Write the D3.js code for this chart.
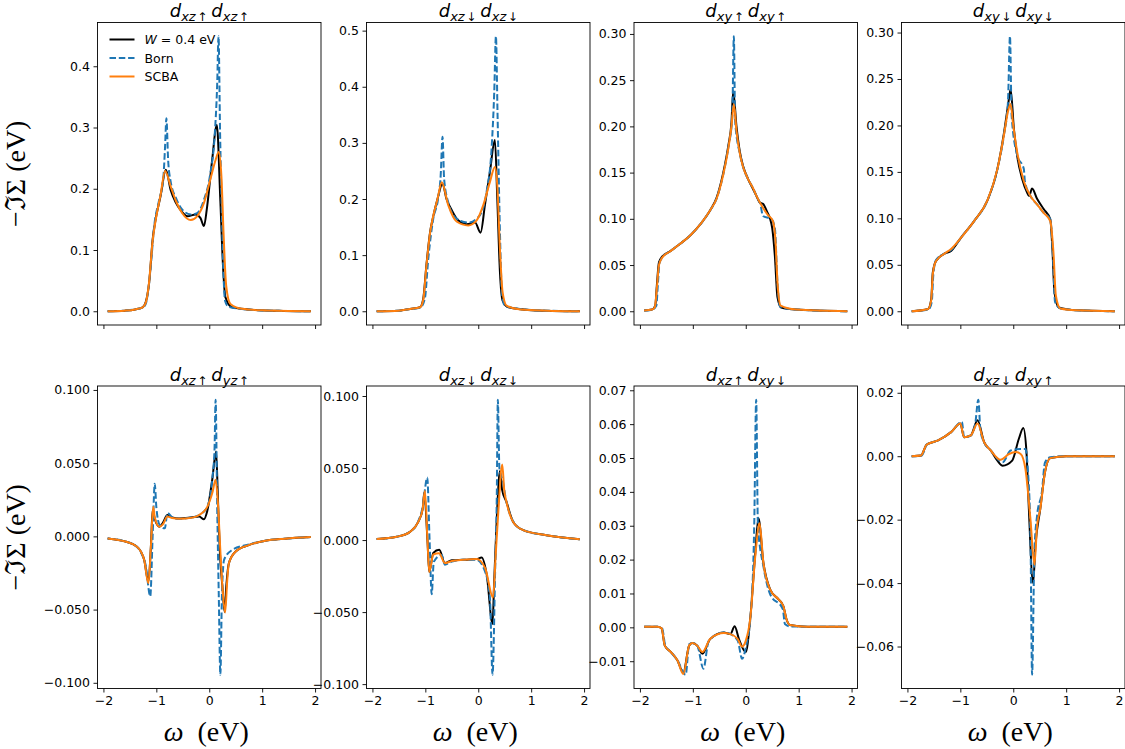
<!DOCTYPE html>
<html>
<head>
<meta charset="utf-8">
<script src="https://cdn.jsdelivr.net/npm/d3@7"></script>
<style>
body{margin:0;background:#fff;}
text{fill:#000;}
</style>
</head>
<body>
<svg id="chart" width="1125" height="749"></svg>
<script>
// ---- data: [omega (eV), -Im Sigma (eV)] ----

// d_xz^ d_xz^
let p11W=[[-1.92,0],[-1.6,0.001],[-1.4,0.003],[-1.26,0.0065],[-1.2,0.015],[-1.135,0.047],[-1.07,0.117],[-1.02,0.147],[-0.92,0.188],[-0.82,0.231],[-0.73,0.198],[-0.63,0.177],[-0.54,0.165],[-0.41,0.155],[-0.26,0.158],[-0.165,0.152],[-0.1,0.139],[-0.04,0.171],[0.055,0.247],[0.143,0.304],[0.21,0.18],[0.26,0.074],[0.305,0.023],[0.43,0.0065],[0.87,0.002],[1.4,0.0005],[1.92,0]];
let p11Born=[[-1.92,0],[-1.6,0.001],[-1.4,0.003],[-1.26,0.006],[-1.2,0.012],[-1.16,0.03],[-1.105,0.074],[-1.04,0.139],[-0.946,0.182],[-0.87,0.215],[-0.835,0.269],[-0.81,0.315],[-0.777,0.247],[-0.73,0.212],[-0.63,0.185],[-0.51,0.166],[-0.35,0.158],[-0.23,0.16],[-0.1,0.182],[0.02,0.225],[0.105,0.29],[0.15,0.371],[0.175,0.449],[0.205,0.29],[0.24,0.155],[0.27,0.058],[0.3,0.017],[0.37,0.007],[0.87,0.002],[1.4,0.0005],[1.92,0]];
let p11Scba=[[-1.92,0],[-1.6,0.001],[-1.4,0.003],[-1.26,0.0065],[-1.2,0.014],[-1.14,0.045],[-1.07,0.115],[-1.02,0.145],[-0.92,0.19],[-0.835,0.229],[-0.73,0.204],[-0.63,0.18],[-0.51,0.16],[-0.35,0.149],[-0.23,0.155],[-0.1,0.177],[0.02,0.215],[0.12,0.247],[0.18,0.26],[0.23,0.22],[0.27,0.128],[0.32,0.042],[0.4,0.012],[0.62,0.004],[1.0,0.0015],[1.92,0]];

// d_xz_ d_xz_
let p12W=[[-1.92,0],[-1.5,0.001],[-1.29,0.004],[-1.1,0.007],[-1.04,0.022],[-0.98,0.082],[-0.91,0.141],[-0.86,0.165],[-0.77,0.2],[-0.675,0.227],[-0.6,0.2],[-0.5,0.18],[-0.38,0.162],[-0.22,0.155],[-0.06,0.158],[0.044,0.14],[0.126,0.189],[0.22,0.248],[0.315,0.305],[0.36,0.2],[0.41,0.07],[0.46,0.019],[0.57,0.007],[1.0,0.002],[1.92,0]];
let p12Born=[[-1.92,0],[-1.5,0.001],[-1.29,0.004],[-1.1,0.006],[-1.01,0.022],[-0.945,0.093],[-0.85,0.165],[-0.76,0.2],[-0.71,0.242],[-0.675,0.311],[-0.645,0.236],[-0.57,0.195],[-0.41,0.165],[-0.19,0.158],[0.03,0.171],[0.157,0.2125],[0.252,0.29],[0.302,0.39],[0.334,0.49],[0.365,0.349],[0.41,0.141],[0.447,0.034],[0.5,0.01],[0.8,0.004],[1.3,0.001],[1.92,0]];
let p12Scba=[[-1.92,0],[-1.5,0.001],[-1.29,0.004],[-1.1,0.007],[-1.04,0.02],[-0.98,0.08],[-0.91,0.14],[-0.86,0.166],[-0.77,0.2],[-0.69,0.23],[-0.567,0.189],[-0.41,0.16],[-0.19,0.153],[-0.03,0.162],[0.095,0.189],[0.22,0.23],[0.315,0.257],[0.36,0.224],[0.41,0.111],[0.46,0.034],[0.535,0.01],[0.8,0.003],[1.3,0.001],[1.92,0]];

// d_xy^ d_xy^
let p13W=[[-1.92,0.0007],[-1.77,0.0018],[-1.71,0.006],[-1.68,0.028],[-1.64,0.053],[-1.58,0.059],[-1.425,0.065],[-1.24,0.073],[-1.05,0.082],[-0.86,0.094],[-0.675,0.109],[-0.55,0.123],[-0.425,0.15],[-0.33,0.179],[-0.27,0.204],[-0.237,0.238],[-0.175,0.2],[-0.11,0.172],[-0.05,0.157],[0.044,0.143],[0.14,0.132],[0.2,0.125],[0.26,0.118],[0.33,0.116],[0.4,0.108],[0.46,0.1],[0.5,0.09],[0.55,0.06],[0.6,0.015],[0.67,0.004],[0.95,0.0018],[1.92,0]];
let p13Born=[[-1.92,0.0007],[-1.77,0.0018],[-1.69,0.006],[-1.66,0.03],[-1.63,0.052],[-1.58,0.058],[-1.425,0.065],[-1.24,0.073],[-1.05,0.082],[-0.86,0.094],[-0.675,0.109],[-0.55,0.122],[-0.425,0.148],[-0.33,0.177],[-0.255,0.21],[-0.225,0.2975],[-0.2,0.205],[-0.11,0.17],[-0.05,0.156],[0.044,0.143],[0.14,0.133],[0.2,0.125],[0.28,0.115],[0.325,0.103],[0.48,0.1],[0.55,0.09],[0.6,0.03],[0.65,0.005],[0.95,0.0018],[1.92,0]];
let p13Scba=[[-1.92,0.0007],[-1.77,0.0018],[-1.72,0.004],[-1.68,0.025],[-1.64,0.05],[-1.58,0.058],[-1.425,0.065],[-1.24,0.073],[-1.05,0.082],[-0.86,0.094],[-0.675,0.109],[-0.55,0.122],[-0.425,0.148],[-0.33,0.176],[-0.27,0.2],[-0.225,0.224],[-0.175,0.195],[-0.11,0.17],[-0.05,0.156],[0.044,0.143],[0.14,0.133],[0.2,0.125],[0.325,0.112],[0.42,0.104],[0.51,0.098],[0.56,0.078],[0.6,0.031],[0.66,0.006],[0.95,0.0018],[1.92,0]];

// d_xy_ d_xy_
let p14W=[[-1.92,0],[-1.61,0.0025],[-1.55,0.013],[-1.52,0.042],[-1.46,0.054],[-1.3,0.062],[-1.175,0.065],[-0.99,0.079],[-0.74,0.097],[-0.49,0.119],[-0.3,0.153],[-0.175,0.192],[-0.1,0.221],[-0.05,0.239],[0.0125,0.196],[0.075,0.167],[0.17,0.142],[0.26,0.128],[0.3,0.124],[0.356,0.132],[0.45,0.121],[0.575,0.11],[0.7,0.099],[0.74,0.067],[0.78,0.02],[0.86,0.004],[1.2,0.001],[1.92,0]];
let p14Born=[[-1.92,0],[-1.6,0.002],[-1.54,0.01],[-1.51,0.04],[-1.46,0.055],[-1.3,0.062],[-1.175,0.066],[-0.99,0.079],[-0.74,0.097],[-0.49,0.119],[-0.3,0.153],[-0.175,0.19],[-0.1,0.225],[-0.062,0.296],[-0.03,0.21],[0.075,0.168],[0.2,0.153],[0.22,0.14],[0.325,0.124],[0.45,0.115],[0.575,0.106],[0.7,0.099],[0.75,0.06],[0.79,0.01],[0.89,0.003],[1.2,0.001],[1.92,0]];
let p14Scba=[[-1.92,0],[-1.61,0.0025],[-1.55,0.012],[-1.52,0.04],[-1.46,0.054],[-1.3,0.062],[-1.175,0.067],[-0.99,0.079],[-0.74,0.097],[-0.49,0.119],[-0.3,0.153],[-0.175,0.19],[-0.1,0.215],[-0.05,0.223],[0.0,0.2],[0.075,0.171],[0.2,0.14],[0.325,0.124],[0.45,0.115],[0.575,0.106],[0.7,0.097],[0.76,0.063],[0.805,0.017],[0.89,0.003],[1.2,0.001],[1.92,0]];

// d_xz^ d_yz^
let p21W=[[-1.92,-0.0014],[-1.57,-0.0037],[-1.385,-0.0066],[-1.29,-0.0105],[-1.23,-0.016],[-1.15,-0.031],[-1.1,-0.005],[-1.07,0.018],[-1.03,0.012],[-0.946,0.0066],[-0.88,0.009],[-0.79,0.0146],[-0.7,0.013],[-0.57,0.0122],[-0.32,0.013],[-0.19,0.0135],[-0.1,0.0117],[-0.04,0.017],[0.056,0.0386],[0.13,0.058],[0.16,0.03],[0.2,-0.01],[0.25,-0.035],[0.29,-0.0516],[0.32,-0.035],[0.37,-0.0185],[0.495,-0.0105],[0.745,-0.006],[1.06,-0.003],[1.43,-0.0016],[1.92,-0.0005]];
let p21Born=[[-1.92,-0.0014],[-1.57,-0.0037],[-1.385,-0.0066],[-1.29,-0.011],[-1.2,-0.02],[-1.115,-0.041],[-1.07,0.0],[-1.03,0.036],[-1.0,0.02],[-0.94,0.008],[-0.84,0.0055],[-0.79,0.016],[-0.7,0.013],[-0.57,0.012],[-0.32,0.013],[-0.19,0.0146],[-0.04,0.02],[0.06,0.04],[0.1,0.06],[0.12,0.0933],[0.15,0.02],[0.18,-0.04],[0.21,-0.0945],[0.24,-0.04],[0.28,-0.016],[0.43,-0.0094],[0.745,-0.0055],[1.06,-0.003],[1.43,-0.0016],[1.92,-0.0005]];
let p21Scba=[[-1.92,-0.0014],[-1.57,-0.0037],[-1.385,-0.0066],[-1.29,-0.0105],[-1.23,-0.016],[-1.15,-0.032],[-1.1,-0.005],[-1.06,0.0203],[-1.03,0.013],[-0.946,0.0066],[-0.88,0.008],[-0.79,0.0135],[-0.7,0.0125],[-0.57,0.012],[-0.32,0.0128],[-0.19,0.0146],[-0.04,0.02],[0.06,0.03],[0.12,0.0386],[0.16,0.025],[0.21,-0.01],[0.25,-0.035],[0.3,-0.052],[0.34,-0.03],[0.37,-0.0185],[0.495,-0.0105],[0.745,-0.006],[1.06,-0.003],[1.43,-0.0016],[1.92,-0.0005]];

// d_xz_ d_xz_ (off-diagonal panel)
let p22W=[[-1.92,0.0007],[-1.54,0.0023],[-1.29,0.0057],[-1.134,0.0126],[-1.05,0.0217],[-1.02,0.033],[-0.96,0.0],[-0.926,-0.0221],[-0.85,-0.009],[-0.737,-0.0068],[-0.63,-0.016],[-0.5,-0.014],[-0.284,-0.0137],[-0.03,-0.0132],[0.063,-0.0121],[0.16,-0.024],[0.27,-0.0582],[0.3,-0.03],[0.35,0.0148],[0.41,0.048],[0.45,0.035],[0.535,0.0263],[0.66,0.0126],[0.85,0.0069],[1.29,0.0034],[1.92,0.0005]];
let p22Born=[[-1.92,0.0007],[-1.54,0.0023],[-1.29,0.0057],[-1.134,0.013],[-1.05,0.023],[-0.964,0.0434],[-0.92,0.0],[-0.88,-0.0376],[-0.84,-0.015],[-0.69,-0.0103],[-0.63,-0.0171],[-0.5,-0.015],[-0.284,-0.0137],[-0.03,-0.0137],[0.13,-0.022],[0.22,-0.04],[0.27,-0.0935],[0.32,-0.02],[0.35,0.03],[0.37,0.0974],[0.4,0.05],[0.47,0.04],[0.51,0.0308],[0.66,0.013],[0.85,0.0069],[1.29,0.0034],[1.92,0.0005]];
let p22Scba=[[-1.92,0.0007],[-1.54,0.0023],[-1.29,0.0057],[-1.134,0.0126],[-1.05,0.0217],[-1.008,0.0342],[-0.96,0.0],[-0.926,-0.0221],[-0.85,-0.01],[-0.74,-0.0091],[-0.63,-0.016],[-0.5,-0.0145],[-0.284,-0.0137],[-0.03,-0.0132],[0.13,-0.0194],[0.28,-0.0399],[0.33,-0.01],[0.38,0.02],[0.454,0.0525],[0.49,0.035],[0.535,0.0263],[0.66,0.0126],[0.85,0.0069],[1.29,0.0034],[1.92,0.0005]];

// d_xz^ d_xy_
let p23W=[[-1.92,0.0002],[-1.67,0.0002],[-1.59,-0.0003],[-1.53,-0.0054],[-1.415,-0.0073],[-1.29,-0.0098],[-1.18,-0.0134],[-1.07,-0.0054],[-1.01,-0.0046],[-0.917,-0.0054],[-0.82,-0.0078],[-0.67,-0.0034],[-0.416,-0.0015],[-0.29,-0.002],[-0.21,0.0003],[-0.13,-0.0034],[0.0,-0.0073],[0.084,0.0024],[0.18,0.022],[0.24,0.0322],[0.334,0.019],[0.46,0.0112],[0.616,0.0083],[0.71,0.0063],[0.77,0.0024],[0.834,0.0007],[1.15,0.0002],[1.92,0.0002]];
let p23Born=[[-1.92,0.0002],[-1.67,0.0002],[-1.58,-0.0003],[-1.52,-0.0054],[-1.415,-0.0073],[-1.29,-0.0098],[-1.135,-0.014],[-1.07,-0.005],[-1.01,-0.0046],[-0.917,-0.0054],[-0.8,-0.0122],[-0.7,-0.004],[-0.416,-0.0015],[-0.29,-0.002],[-0.15,-0.004],[-0.07,-0.0093],[0.0,-0.006],[0.1,0.005],[0.16,0.03],[0.197,0.0672],[0.23,0.03],[0.334,0.018],[0.46,0.0098],[0.7,0.0054],[0.74,0.001],[0.834,0.0003],[1.15,0.0002],[1.92,0.0002]];
let p23Scba=[[-1.92,0.0002],[-1.67,0.0002],[-1.59,-0.0003],[-1.53,-0.0054],[-1.415,-0.0073],[-1.29,-0.0098],[-1.18,-0.0138],[-1.07,-0.0054],[-1.01,-0.0046],[-0.917,-0.0054],[-0.82,-0.0073],[-0.67,-0.0034],[-0.416,-0.0017],[-0.29,-0.002],[-0.15,-0.0035],[-0.07,-0.0057],[0.0,-0.004],[0.084,0.0024],[0.18,0.021],[0.26,0.0307],[0.334,0.019],[0.46,0.0112],[0.616,0.0083],[0.71,0.0063],[0.77,0.0024],[0.834,0.0007],[1.15,0.0002],[1.92,0.0002]];

// d_xz_ d_xy^
let p24W=[[-1.92,0],[-1.74,0.0002],[-1.69,0.0018],[-1.64,0.0036],[-1.42,0.005],[-1.175,0.0076],[-1.0,0.0103],[-0.93,0.006],[-0.8,0.0066],[-0.675,0.0113],[-0.55,0.0044],[-0.425,0.0018],[-0.3,-0.0014],[-0.2,-0.003],[-0.02,-0.0014],[0.106,0.0055],[0.19,0.0089],[0.25,0.0013],[0.29,-0.0146],[0.375,-0.04],[0.42,-0.028],[0.51,-0.0167],[0.6,-0.005],[0.7,-0.0006],[1.01,0],[1.92,0]];
let p24Born=[[-1.92,0],[-1.73,0.0002],[-1.68,0.0018],[-1.64,0.0036],[-1.42,0.005],[-1.175,0.0076],[-0.97,0.0108],[-0.93,0.006],[-0.8,0.0066],[-0.72,0.01],[-0.66,0.0178],[-0.62,0.008],[-0.55,0.0044],[-0.425,0.0018],[-0.2,-0.0019],[-0.05,0.0018],[0.14,0.0023],[0.23,0.0023],[0.275,-0.004],[0.325,-0.025],[0.356,-0.0689],[0.4,-0.03],[0.45,-0.0188],[0.54,-0.0114],[0.6,-0.002],[0.7,-0.0003],[1.01,0],[1.92,0]];
let p24Scba=[[-1.92,0],[-1.74,0.0002],[-1.69,0.0018],[-1.64,0.0036],[-1.42,0.005],[-1.175,0.0076],[-1.0,0.0103],[-0.93,0.006],[-0.8,0.0066],[-0.675,0.0103],[-0.55,0.0044],[-0.425,0.0018],[-0.24,-0.0011],[-0.08,0.0007],[0.044,0.0013],[0.14,0.0007],[0.23,-0.004],[0.325,-0.0199],[0.4,-0.0342],[0.45,-0.022],[0.51,-0.0167],[0.6,-0.005],[0.7,-0.0006],[1.01,0],[1.92,0]];

// titles: [orbital, spin] pairs
let titles=[
  [['xz','↑'],['xz','↑']],[['xz','↓'],['xz','↓']],[['xy','↑'],['xy','↑']],[['xy','↓'],['xy','↓']],
  [['xz','↑'],['yz','↑']],[['xz','↓'],['xz','↓']],[['xz','↑'],['xy','↓']],[['xz','↓'],['xy','↑']]
];
let yTicks=[
  [0,0.1,0.2,0.3,0.4],[0,0.1,0.2,0.3,0.4,0.5],[0,0.05,0.1,0.15,0.2,0.25,0.3],[0,0.05,0.1,0.15,0.2,0.25,0.3],
  [-0.1,-0.05,0,0.05,0.1],[-0.1,-0.05,0,0.05,0.1],[-0.01,0,0.01,0.02,0.03,0.04,0.05,0.06,0.07],[-0.06,-0.04,-0.02,0,0.02]
];
let yFormats=['.1f','.1f','.2f','.2f','.3f','.3f','.2f','.2f'];
let xTicks=[-2,-1,0,1,2];
let seriesNames=['W','Born','SCBA'];

let panels=[
  [p11W,p11Born,p11Scba],[p12W,p12Born,p12Scba],[p13W,p13Born,p13Scba],[p14W,p14Born,p14Scba],
  [p21W,p21Born,p21Scba],[p22W,p22Born,p22Scba],[p23W,p23Born,p23Scba],[p24W,p24Born,p24Scba]
];

// ---- layout ----
let svg=d3.select('#chart');
let colLeft=[97.5,366.5,634,901.5];
let rowTop=[22.5,386];
let pw=223.5, ph=302.5;
let styles=[
  {color:'#000000',dash:null},
  {color:'#1f77b4',dash:'6.5,2.8'},
  {color:'#ff7f0e',dash:null}
];
let tickFont='DejaVu Sans';
let serif='Liberation Serif, DejaVu Serif, serif';

function pad(ext){
  let r=ext[1]-ext[0];
  return [ext[0]-0.05*r, ext[1]+0.05*r];
}

panels.forEach((series,i)=>{
  let row=Math.floor(i/4), col=i%4;
  let g=svg.append('g').attr('transform','translate('+colLeft[col]+','+rowTop[row]+')');

  let all=[].concat(...series);
  let x=d3.scaleLinear().domain(pad(d3.extent(all,d=>d[0]))).range([0,pw]);
  let y=d3.scaleLinear().domain(pad(d3.extent(all,d=>d[1]))).range([ph,0]);

  let line=d3.line().x(d=>x(d[0])).y(d=>y(d[1])).curve(d3.curveMonotoneX);

  series.forEach((s,k)=>{
    g.append('path')
      .datum(s)
      .attr('d',line)
      .attr('fill','none')
      .attr('stroke',styles[k].color)
      .attr('stroke-width',2)
      .attr('stroke-dasharray',styles[k].dash)
      .attr('stroke-linejoin','round');
  });

  // axes
  let ya=g.append('g').call(
    d3.axisLeft(y).tickValues(yTicks[i]).tickFormat(d3.format(yFormats[i])).tickSize(4).tickPadding(3.5));
  let xa=g.append('g').attr('transform','translate(0,'+ph+')').call(
    d3.axisBottom(x).tickValues(xTicks).tickFormat(row==1?d3.format('d'):'').tickSize(4).tickPadding(3.5));
  [ya,xa].forEach(a=>{
    a.select('.domain').remove();
    a.selectAll('line').attr('stroke','#000').attr('stroke-width',0.9);
    a.selectAll('text').style('font-family',tickFont).style('font-size','12.5px').attr('fill','#000');
  });

  g.append('rect').attr('width',pw).attr('height',ph)
    .attr('fill','none').attr('stroke','#000').attr('stroke-width',0.9);

  // title
  let t=g.append('text').attr('x',pw/2).attr('y',-5.5).attr('text-anchor','middle')
    .style('font-family','DejaVu Sans').style('font-size','18px');
  titles[i].forEach((p,j)=>{
    t.append('tspan').text('d').style('font-style','italic').attr('dx',j?4:0).attr('dy',j?-4:0);
    t.append('tspan').text(p[0]).style('font-style','italic').style('font-size','13px').attr('dy',4);
    t.append('tspan').text(p[1]).style('font-size','12px').attr('dx',1.5);
  });

  if(col==0){
    svg.append('text')
      .attr('transform','translate(25,'+(rowTop[row]+ph/2)+') rotate(-90)')
      .attr('text-anchor','middle')
      .style('font-family',serif).style('font-size','28px')
      .text('−ℑΣ (eV)');
  }
  if(row==1){
    let xl=svg.append('text')
      .attr('x',colLeft[col]+pw/2-3).attr('y',741)
      .attr('text-anchor','middle')
      .style('font-family',serif).style('font-size','28px');
    xl.append('tspan').text('ω').style('font-style','italic');
    xl.append('tspan').text('(eV)').attr('dx',14);
  }

  // legend in first panel
  if(i==0){
    let lg=g.append('g').attr('transform','translate(12,17)');
    seriesNames.forEach((n,k)=>{
      let r=lg.append('g').attr('transform','translate(0,'+(k*18.5)+')');
      r.append('line').attr('x1',0).attr('x2',25).attr('y1',0).attr('y2',0)
        .attr('stroke',styles[k].color).attr('stroke-width',2).attr('stroke-dasharray',styles[k].dash);
      let tx=r.append('text').attr('x',35).attr('y',4.5).style('font-family','DejaVu Sans').style('font-size','12.5px');
      if(k==0){
        tx.append('tspan').text('W').style('font-style','italic');
        tx.append('tspan').text(' = 0.4 eV').attr('xml:space','preserve');
      } else tx.text(n);
    });
  }
});
</script>
</body>
</html>
